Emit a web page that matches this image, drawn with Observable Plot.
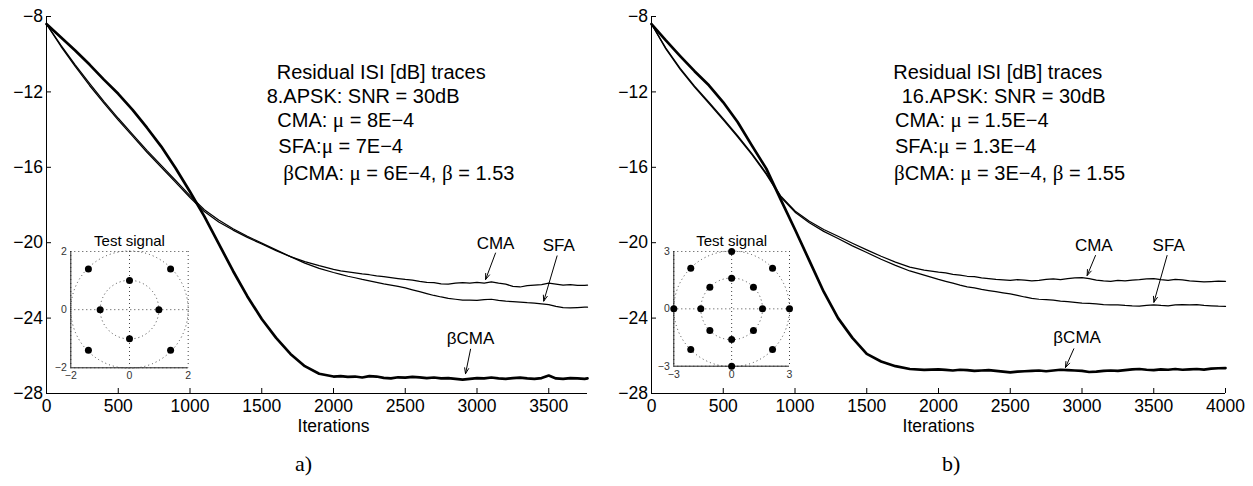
<!DOCTYPE html>
<html><head><meta charset="utf-8">
<script src="https://cdn.jsdelivr.net/npm/d3@7"></script>
<script src="https://cdn.jsdelivr.net/npm/@observablehq/plot@0.6"></script>
<style>
body{margin:0;background:#fff;}
#root{position:relative;width:1253px;height:486px;overflow:hidden;font-family:"Liberation Sans",Arial,Helvetica,sans-serif;color:#000;background:#fff;}
.abs{position:absolute;}
.ann{position:absolute;font-size:20px;line-height:20px;white-space:nowrap;}
.gk{font-family:"Liberation Serif","Times New Roman",serif;font-size:21px;}
.cap{position:absolute;font-family:"Liberation Serif","Times New Roman",serif;font-size:22px;line-height:22px;white-space:nowrap;}
</style></head><body><div id="root"></div>
<script>
// ---------- DATA ----------
const itersHead = [0,100,200,300,400,500,600,700,800,900,1000,1100,1200,1300,1400,1500,1600,1700,1800,1900];
const itersTailA = [2000,2050,2100,2150,2200,2250,2300,2350,2400,2450,2500,2550,2600,2650,2700,2750,2800,2850,2900,2950,3000,3050,3100,3150,3200,3250,3300,3350,3400,3450,3500,3550,3600,3650,3700,3750,3770];
const itersTailB = [2000,2050,2100,2150,2200,2250,2300,2350,2400,2450,2500,2550,2600,2650,2700,2750,2800,2850,2900,2950,3000,3050,3100,3150,3200,3250,3300,3350,3400,3450,3500,3550,3600,3650,3700,3750,3800,3850,3900,3950,4000];

// Panel a) 8-APSK
const cmaA = [-8.4,-9.58,-10.65,-11.66,-12.6,-13.5,-14.35,-15.2,-16.0,-16.8,-17.6,-18.35,-18.9,-19.33,-19.72,-20.07,-20.42,-20.74,-21.0,-21.22,
  -21.42,-21.5,-21.55,-21.6,-21.66,-21.7,-21.76,-21.8,-21.85,-21.9,-21.95,-21.98,-22.05,-22.1,-22.12,-22.18,-22.2,-22.15,-22.12,-22.15,-22.1,-22.14,-22.08,-22.15,-22.2,-22.32,-22.35,-22.28,-22.25,-22.22,-22.15,-22.2,-22.25,-22.22,-22.27,-22.26,-22.25];
const sfaA = [-8.4,-9.52,-10.56,-11.55,-12.5,-13.4,-14.25,-15.1,-15.9,-16.7,-17.5,-18.25,-18.8,-19.26,-19.66,-20.02,-20.38,-20.74,-21.08,-21.36,
  -21.58,-21.68,-21.78,-21.86,-21.95,-22.02,-22.1,-22.18,-22.25,-22.32,-22.4,-22.5,-22.6,-22.7,-22.8,-22.88,-22.95,-23.0,-23.05,-23.04,-23.06,-23.02,-23.0,-23.06,-23.1,-23.12,-23.15,-23.18,-23.2,-23.24,-23.28,-23.38,-23.45,-23.46,-23.44,-23.42,-23.42];
const bcmaA = [-8.4,-9.1,-9.8,-10.55,-11.35,-12.1,-12.95,-13.9,-14.9,-16.05,-17.3,-18.6,-20.05,-21.5,-22.85,-24.05,-25.05,-25.9,-26.55,-26.95,
  -27.1,-27.08,-27.12,-27.1,-27.15,-27.08,-27.1,-27.17,-27.2,-27.14,-27.16,-27.12,-27.14,-27.18,-27.15,-27.2,-27.18,-27.22,-27.26,-27.22,-27.18,-27.2,-27.15,-27.2,-27.22,-27.18,-27.16,-27.2,-27.22,-27.18,-27.05,-27.2,-27.22,-27.18,-27.2,-27.22,-27.2];

// Panel b) 16-APSK
const cmaB = [-8.4,-9.68,-10.75,-11.69,-12.55,-13.42,-14.32,-15.27,-16.32,-17.52,-18.32,-18.86,-19.3,-19.66,-20.03,-20.38,-20.72,-21.03,-21.3,-21.45,
  -21.56,-21.6,-21.68,-21.72,-21.78,-21.8,-21.86,-21.9,-21.95,-21.97,-22.0,-21.96,-21.98,-22.02,-22.0,-21.95,-21.92,-21.96,-21.9,-21.86,-21.85,-21.9,-21.98,-22.02,-22.05,-22.0,-22.02,-21.98,-21.96,-21.92,-21.9,-21.96,-22.0,-21.95,-21.97,-22.02,-22.05,-22.08,-22.06,-22.04,-22.05];
const sfaB = [-8.4,-9.72,-10.8,-11.75,-12.61,-13.48,-14.38,-15.33,-16.38,-17.58,-18.38,-18.94,-19.4,-19.78,-20.17,-20.52,-20.88,-21.2,-21.5,-21.72,
  -21.95,-22.05,-22.15,-22.25,-22.34,-22.4,-22.48,-22.54,-22.6,-22.66,-22.72,-22.8,-22.88,-22.95,-23.0,-23.02,-23.05,-23.1,-23.12,-23.16,-23.2,-23.22,-23.25,-23.28,-23.3,-23.3,-23.33,-23.35,-23.36,-23.32,-23.3,-23.33,-23.35,-23.3,-23.28,-23.3,-23.28,-23.33,-23.35,-23.37,-23.38];
const bcmaB = [-8.4,-9.27,-10.1,-10.9,-11.65,-12.55,-13.6,-14.85,-16.07,-17.7,-19.3,-20.95,-22.6,-24.0,-25.05,-25.9,-26.3,-26.55,-26.7,-26.75,
  -26.72,-26.75,-26.78,-26.74,-26.76,-26.8,-26.78,-26.76,-26.8,-26.84,-26.88,-26.84,-26.82,-26.8,-26.78,-26.82,-26.78,-26.74,-26.76,-26.78,-26.8,-26.86,-26.84,-26.8,-26.78,-26.8,-26.76,-26.72,-26.7,-26.74,-26.76,-26.72,-26.74,-26.7,-26.74,-26.72,-26.7,-26.73,-26.68,-26.66,-26.65];

const yTicks = [-28,-24,-20,-16,-12,-8];
const xTicksA = [0,500,1000,1500,2000,2500,3000,3500];
const xTicksB = [0,500,1000,1500,2000,2500,3000,3500,4000];
const seriesNames = ["CMA","SFA","\u03B2CMA"];

// annotation texts
const annA = ["Residual ISI [dB] traces","8.APSK: SNR = 30dB","CMA: \u03BC = 8E\u22124","SFA:\u03BC = 7E\u22124","\u03B2CMA: \u03BC = 6E\u22124, \u03B2 = 1.53"];
const annB = ["Residual ISI [dB] traces","16.APSK: SNR = 30dB","CMA: \u03BC = 1.5E\u22124","SFA:\u03BC = 1.3E\u22124","\u03B2CMA: \u03BC = 3E\u22124, \u03B2 = 1.55"];
const captions = ["a)","b)"];

// constellations (test signals)
const constAx = [1,0,-1,0,1.4,-1.4,-1.4,1.4];
const constAy = [0,1,0,-1,1.4,1.4,-1.4,-1.4];
const ringsA = [1,2];
const constBx = [1.6,1.13,0,-1.13,-1.6,-1.13,0,1.13, 3,2.12,0,-2.12,-3,-2.12,0,2.12];
const constBy = [0,1.13,1.6,1.13,0,-1.13,-1.6,-1.13, 0,2.12,3,2.12,0,-2.12,-3,-2.12];
const ringsB = [1.6,3];

// curve labels & arrows (data coords)
const labA = [{t:"CMA",x:3129,y:-20.06},{t:"SFA",x:3570,y:-20.15},{t:"\u03B2CMA",x:2955,y:-25.1}];
const arrA = [{x1:3129,y1:-20.55,x2:3060,y2:-21.95},{x1:3558,y1:-20.7,x2:3465,y2:-23.1},{x1:2955,y1:-25.65,x2:2920,y2:-26.95}];
const labB = [{t:"CMA",x:3082,y:-20.15},{t:"SFA",x:3604,y:-20.15},{t:"\u03B2CMA",x:2966,y:-25.01}];
const arrB = [{x1:3094,y1:-20.68,x2:3036,y2:-21.74},{x1:3593,y1:-20.68,x2:3501,y2:-23.16},{x1:2943,y1:-25.63,x2:2885,y2:-26.62}];

// ---------- RENDER ----------
const FONT = '"Liberation Sans", Arial, Helvetica, sans-serif';
const root = document.getElementById("root");
const fmt = d => d < 0 ? "\u2212" + Math.abs(d) : String(d);

function rows(iters, vals, s) { return iters.map((it, i) => ({it, v: vals[i], s})); }

function place(node, left, top) {
  const w = document.createElement("div");
  w.className = "abs"; w.style.left = left + "px"; w.style.top = top + "px";
  w.appendChild(node); root.appendChild(w);
}

function panel(cfg) {
  const H = 450, mL = 46, mT = 16, mB = 57, TICK = 5;
  const plotW = cfg.width - mL - cfg.marginRight, plotH = H - mT - mB;
  const iters = itersHead.concat(cfg.tail);
  const thin = rows(iters, cfg.cma, seriesNames[0]).concat(rows(iters, cfg.sfa, seriesNames[1]));
  const thick = rows(iters, cfg.bcma, seriesNames[2]);
  const p = Plot.plot({
    width: cfg.width, height: H,
    marginLeft: mL, marginRight: cfg.marginRight, marginTop: mT, marginBottom: mB,
    x: {domain: [0, cfg.xMax]}, y: {domain: [-28, -8]},
    style: {background: "transparent", fontFamily: FONT, fontSize: "17.5px", color: "#000", overflow: "visible"},
    marks: [
      Plot.axisX({ticks: cfg.xTicks, tickFormat: fmt, tickSize: 0, tickPadding: 6, label: null, fill: "#000"}),
      Plot.axisY({ticks: yTicks, tickFormat: fmt, tickSize: 0, tickPadding: 3.5, label: null, fill: "#000"}),
      Plot.tickX(cfg.xTicks, {x: d => d, insetTop: plotH - TICK, stroke: "#000"}),
      Plot.tickY(yTicks, {y: d => d, insetRight: plotW - TICK, stroke: "#000"}),
      Plot.ruleX([0], {stroke: "#000"}),
      Plot.ruleY([-28], {stroke: "#000"}),
      Plot.line(thin, {x: "it", y: "v", z: "s", stroke: "#000", strokeWidth: 1.25}),
      Plot.line(thick, {x: "it", y: "v", stroke: "#000", strokeWidth: 2.7}),
      Plot.arrow(cfg.arrows, {x1: "x1", y1: "y1", x2: "x2", y2: "y2", stroke: "#000", strokeWidth: 1, headLength: 9, headAngle: 40}),
      Plot.text(cfg.labels, {x: "x", y: "y", text: "t", fontSize: 17, fill: "#000"}),
      Plot.text(["Iterations"], {x: 2000, frameAnchor: "bottom", dy: 38, fontSize: 17.5, fill: "#000"})
    ]
  });
  place(p, cfg.left, 0);
}

function inset(cfg) {
  const pts = cfg.px.map((x, i) => ({x, y: cfg.py[i]}));
  const L = cfg.lim;
  const plotW = cfg.width - cfg.mL - cfg.mR;
  const p = Plot.plot({
    width: cfg.width, height: cfg.height,
    marginLeft: cfg.mL, marginRight: cfg.mR, marginTop: cfg.mT, marginBottom: cfg.mB,
    x: {domain: [-L, L]}, y: {domain: [-L, L]},
    r: {type: "linear", domain: [0, L], range: [0, plotW / 2]},
    style: {background: "transparent", fontFamily: FONT, fontSize: "10.5px", color: "#333", overflow: "visible"},
    marks: [
      Plot.ruleX([-L, 0, L], {stroke: "#444", strokeDasharray: "1,3"}),
      Plot.ruleY([-L, 0, L], {stroke: "#444", strokeDasharray: "1,3"}),
      Plot.dot(cfg.rings, {x: 0, y: 0, r: d => d, stroke: "#444", fill: "none", strokeDasharray: "1,3", strokeWidth: 1}),
      Plot.ruleX([-L], {stroke: "#222"}),
      Plot.ruleY([-L], {stroke: "#222"}),
      Plot.dot(pts, {x: "x", y: "y", r: 3.5, fill: "#000"}),
      Plot.axisX({ticks: [-L, 0, L], tickFormat: fmt, tickSize: 0, tickPadding: 4, label: null, fill: "#333"}),
      Plot.axisY({ticks: [-L, 0, L], tickFormat: fmt, tickSize: 0, tickPadding: 4, label: null, fill: "#333"}),
      Plot.text(["Test signal"], {frameAnchor: "top", dy: -16, fontSize: 15, fill: "#000"})
    ]
  });
  place(p, cfg.left, cfg.top);
}

function annotate(lines, lefts, centers) {
  lines.forEach((t, i) => {
    const d = document.createElement("div");
    d.className = "ann";
    d.style.left = lefts[i] + "px";
    d.style.top = (centers[i] - 10) + "px";
    d.innerHTML = t.replace(/([\u03BC\u03B2])/g, '<span class="gk">$1</span>');
    root.appendChild(d);
  });
}

panel({left: 0, width: 620, marginRight: 33, xMax: 3770, xTicks: xTicksA, tail: itersTailA, cma: cmaA, sfa: sfaA, bcma: bcmaA, labels: labA, arrows: arrA});
panel({left: 605, width: 645, marginRight: 25, xMax: 4000, xTicks: xTicksB, tail: itersTailB, cma: cmaB, sfa: sfaB, bcma: bcmaB, labels: labB, arrows: arrB});

inset({left: 20, top: 225, width: 180, height: 165, mL: 50.3, mR: 12.3, mT: 26, mB: 22.7, lim: 2, rings: ringsA, px: constAx, py: constAy});
inset({left: 623, top: 225, width: 180, height: 165, mL: 50.3, mR: 14, mT: 26, mB: 24.3, lim: 3, rings: ringsB, px: constBx, py: constBy});

const rowCenters = [72, 95.5, 120, 145.5, 172.5];
annotate(annA, [276.7, 266.7, 277.3, 278.3, 283.3], rowCenters);
annotate(annB, [893.3, 901.7, 895, 895, 894], rowCenters);

[[305, captions[0]], [952, captions[1]]].forEach(([cx, t]) => {
  const d = document.createElement("div");
  d.className = "cap";
  d.textContent = t;
  d.style.left = (cx - 10) + "px";
  d.style.top = (465 - 12) + "px";
  root.appendChild(d);
});
</script></body></html>
